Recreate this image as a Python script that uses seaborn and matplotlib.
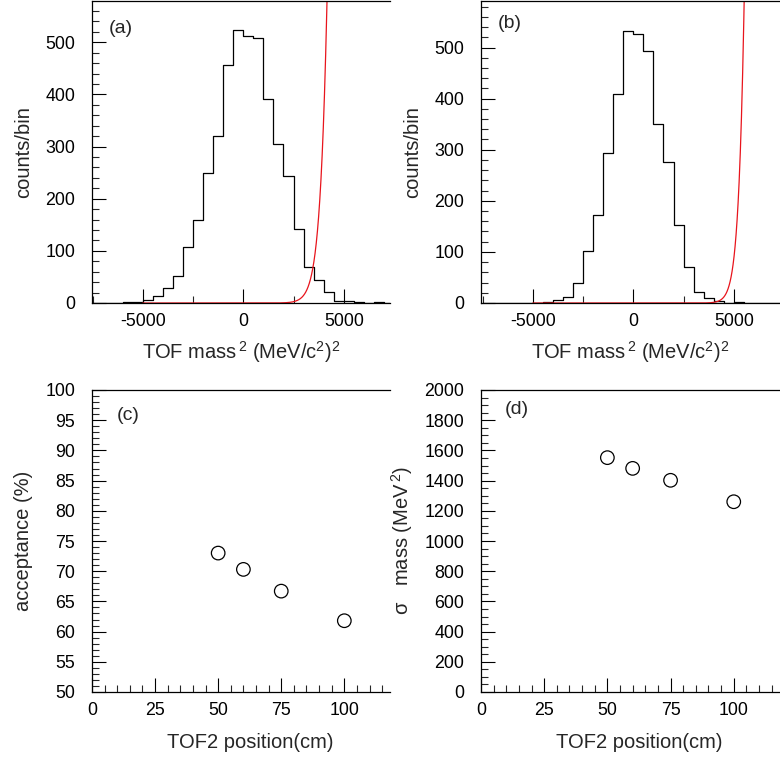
import numpy as np
import pandas as pd
import matplotlib
matplotlib.use("Agg")
import matplotlib.pyplot as plt
from matplotlib.ticker import MultipleLocator
import seaborn as sns

# ---------------- data ----------------
bin_edges = np.arange(-7500, 7501, 500)          # TOF mass^2 bins, (MeV/c^2)^2
bin_centers = (bin_edges[:-1] + bin_edges[1:]) / 2

counts_a = [0, 0, 0, 1, 2, 6, 13, 29, 51, 107, 160, 250, 321, 457, 523,
            512, 509, 392, 305, 243, 142, 69, 45, 22, 4, 4, 2, 0, 2, 0]
counts_b = [0, 0, 0, 0, 0, 0, 2, 6, 12, 40, 102, 173, 293, 409, 533,
            526, 493, 350, 276, 152, 70, 22, 9, 4, 0, 1, 0, 0, 0, 0]

# red fit curves (gaussian of the muon peak, parameters)
fit_mean = 11164.0
fit_sigma_a, fit_amp_a = 1550.0, 1.55e7
fit_sigma_b, fit_amp_b = 1260.0, 1.36e7
fit_range = (-5000, 7500)

tof2_position = [50, 60, 75, 100]                 # cm
acceptance = [73.0, 70.3, 66.7, 61.8]             # %
sigma_mass = [1552, 1481, 1402, 1260]             # MeV^2

# ---------------- style ----------------
sns.set_theme(style="ticks")
plt.rcParams["font.family"] = ["Liberation Sans", "DejaVu Sans"]
plt.rcParams["mathtext.fontset"] = "custom"
plt.rcParams["mathtext.rm"] = "Liberation Sans"
plt.rcParams["mathtext.it"] = "Liberation Sans:italic"
plt.rcParams["mathtext.default"] = "regular"
plt.rcParams["axes.unicode_minus"] = False

W, H = 780, 762
fig = plt.figure(figsize=(W / 100, H / 100), dpi=100)


def add_ax(left, right, top, bottom):
    return fig.add_axes([left / W, (H - bottom) / H, (right - left) / W, (bottom - top) / H])


ax_a = add_ax(92, 390, 1, 303)
ax_b = add_ax(481, 780, 1, 303)
ax_c = add_ax(92, 390, 390, 692)
ax_d = add_ax(481, 780, 390, 692)

TICK_FS = 12.8
LABEL_FS = 14.5
TAG_FS = 14


def style_axis(ax):
    for s in ["left", "bottom", "top"]:
        ax.spines[s].set_visible(True)
        ax.spines[s].set_color("black")
        ax.spines[s].set_linewidth(0.9)
    ax.spines["right"].set_visible(False)
    ax.tick_params(which="major", direction="in", length=10, width=0.8,
                   labelsize=TICK_FS, colors="black", top=False, right=False)
    ax.tick_params(which="minor", direction="in", length=5, width=0.8,
                   top=False, right=False)
    ax.tick_params(axis="x", which="major", pad=7)
    ax.tick_params(axis="y", which="major", pad=12)
    ax.set_facecolor("white")


# ---------- histograms ----------
hist_df_a = pd.DataFrame({"m2": bin_centers, "w": counts_a})
hist_df_b = pd.DataFrame({"m2": bin_centers, "w": counts_b})

fx = np.linspace(fit_range[0], fit_range[1], 1500)
fit_df_a = pd.DataFrame({"x": fx, "y": fit_amp_a * np.exp(-(fx - fit_mean) ** 2 / (2 * fit_sigma_a ** 2))})
fit_df_b = pd.DataFrame({"x": fx, "y": fit_amp_b * np.exp(-(fx - fit_mean) ** 2 / (2 * fit_sigma_b ** 2))})

for ax, hdf, fdf, xlim, ylim, lab, lpos in [
    (ax_a, hist_df_a, fit_df_a, (-7530, 7300), (0, 579), "(a)", (0.057, 0.91)),
    (ax_b, hist_df_b, fit_df_b, (-7580, 7300), (0, 591), "(b)", (0.057, 0.927)),
]:
    sns.histplot(data=hdf, x="m2", weights="w", binwidth=500,
                 binrange=(float(bin_edges[0]), float(bin_edges[-1])), element="step",
                 fill=False, color="black", linewidth=0.9, ax=ax)
    sns.lineplot(data=fdf, x="x", y="y", color="#e8141c", linewidth=0.9, ax=ax)
    ax.set_xlim(*xlim)
    ax.set_ylim(*ylim)
    style_axis(ax)
    ax.xaxis.set_major_locator(MultipleLocator(5000))
    ax.xaxis.set_minor_locator(MultipleLocator(2500))
    ax.yaxis.set_major_locator(MultipleLocator(100))
    ax.yaxis.set_minor_locator(MultipleLocator(20))
    ax.set_xlabel(r"TOF mass$^{\,2}$ (MeV/c$^{2}$)$^{2}$", fontsize=LABEL_FS, labelpad=7)
    ax.set_ylabel("counts/bin", fontsize=LABEL_FS, labelpad=9)
    ax.text(lpos[0], lpos[1], lab, transform=ax.transAxes, fontsize=TAG_FS,
            ha="left", va="center")

# ---------- scatter panels ----------
pts_df = pd.DataFrame({"pos": tof2_position, "acc": acceptance, "sig": sigma_mass})

sns.scatterplot(data=pts_df, x="pos", y="acc", ax=ax_c, marker="o", s=95,
                facecolor="none", edgecolor="black", linewidth=0.9)
ax_c.set_xlim(0, 118.1)
ax_c.set_ylim(50, 100)
style_axis(ax_c)
ax_c.xaxis.set_major_locator(MultipleLocator(25))
ax_c.xaxis.set_minor_locator(MultipleLocator(5))
ax_c.yaxis.set_major_locator(MultipleLocator(5))
ax_c.yaxis.set_minor_locator(MultipleLocator(1))
ax_c.set_xlabel("TOF2 position(cm)", fontsize=LABEL_FS)
ax_c.xaxis.set_label_coords(0.53, -0.137)
ax_c.set_ylabel("acceptance (%)", fontsize=LABEL_FS, labelpad=9)
ax_c.text(0.084, 0.917, "(c)", transform=ax_c.transAxes, fontsize=TAG_FS,
          ha="left", va="center")

sns.scatterplot(data=pts_df, x="pos", y="sig", ax=ax_d, marker="o", s=95,
                facecolor="none", edgecolor="black", linewidth=0.9)
ax_d.set_xlim(0, 118.3)
ax_d.set_ylim(0, 2000)
style_axis(ax_d)
ax_d.xaxis.set_major_locator(MultipleLocator(25))
ax_d.xaxis.set_minor_locator(MultipleLocator(5))
ax_d.yaxis.set_major_locator(MultipleLocator(200))
ax_d.yaxis.set_minor_locator(MultipleLocator(50))
ax_d.set_xlabel("TOF2 position(cm)", fontsize=LABEL_FS)
ax_d.xaxis.set_label_coords(0.53, -0.137)
ax_d.set_ylabel(r"$\sigma$   mass (MeV$^{\,2}$)", fontsize=LABEL_FS, labelpad=7)
ax_d.text(0.08, 0.934, "(d)", transform=ax_d.transAxes, fontsize=TAG_FS,
          ha="left", va="center")

fig.savefig("out.png", dpi=100, facecolor="white")
